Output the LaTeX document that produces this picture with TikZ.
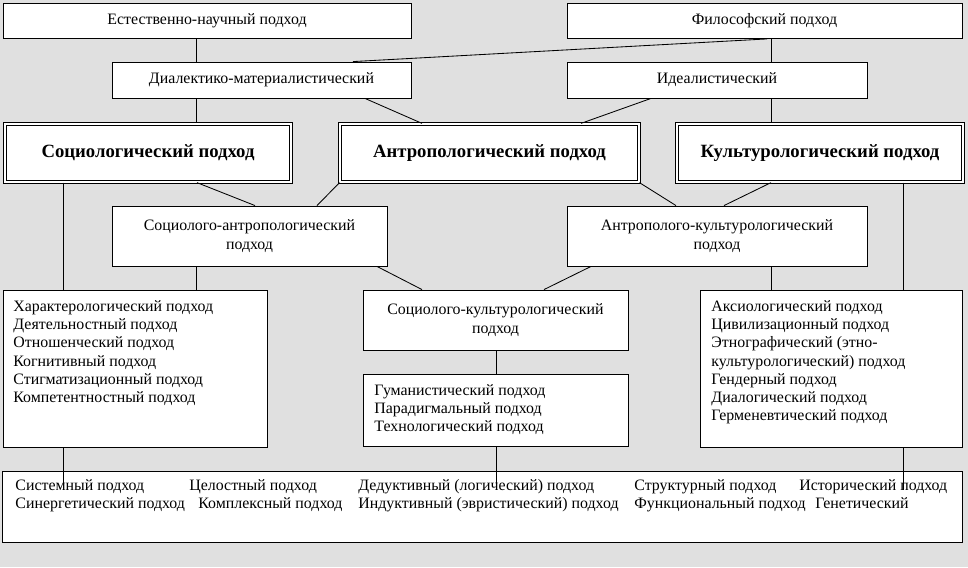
\documentclass[tikz,border=0pt]{standalone}
\usepackage{fontspec}
\setmainfont{Liberation Serif}
\usetikzlibrary{calc}

\begin{document}
\begin{tikzpicture}[
  x=0.025cm, y=-0.025cm,
  line width=0.6pt,
  box/.style={
    draw, fill=white, inner sep=2pt, align=center,
    font=\fontsize{11.3}{13}\selectfont
  },
  mainbox/.style={
    box, double, double distance=1.4pt,
    font=\fontsize{13.3}{15}\selectfont\bfseries
  },
  listtext/.style={
    anchor=north west, inner sep=0pt, align=left,
    font=\fontsize{11.3}{13}\selectfont
  },
  rowtext/.style={
    anchor=base west, inner sep=0pt,
    font=\fontsize{11.3}{13}\selectfont
  },
  link/.style={draw, line width=0.6pt}
]

% Background
\path[use as bounding box, fill=black!12] (0,0) rectangle (968,567);

% Philosophical roots
\node[box, minimum width=10.2cm, minimum height=0.875cm] (est) at (207,21) {Естественно-научный подход};
\node[box, minimum width=9.875cm, minimum height=0.875cm] (phil) at (764.5,21) {Философский подход};
\node[box, minimum width=7.475cm, minimum height=0.9cm] (dial) at (261.5,80) {Диалектико-материалистический};
\node[box, minimum width=7.5cm, minimum height=0.9cm] (ideal) at (717,80) {Идеалистический};

% Main approaches (double frame)
\node[mainbox, minimum width=7.15cm, minimum height=1.46cm] (socio) at (148,153) {Социологический подход};
\node[mainbox, minimum width=7.475cm, minimum height=1.46cm] (anthro) at (489.5,153) {Антропологический подход};
\node[mainbox, minimum width=7.15cm, minimum height=1.46cm] (cult) at (820,153) {Культурологический подход};

% Mixed approaches
\node[box, minimum width=6.875cm, minimum height=1.5cm] (socanth) at (249.5,236) {Социолого-антропологический\\подход};
\node[box, minimum width=7.5cm, minimum height=1.5cm] (anthcult) at (717,236) {Антрополого-культурологический\\подход};
\node[box, minimum width=6.625cm, minimum height=1.5cm] (soccult) at (495.5,320) {Социолого-культурологический\\подход};

% Lists of particular approaches
\node[box, minimum width=6.6cm, minimum height=3.925cm] (socl) at (135,368.5) {};
\node[box, minimum width=6.625cm, minimum height=1.8cm] (scl) at (495.5,410) {};
\node[box, minimum width=6.55cm, minimum height=3.925cm] (cull) at (831,368.5) {};

\node[listtext] (socltext) at (13,300) {Характерологический подход\\Деятельностный подход\\Отношенческий подход\\Когнитивный подход\\Стигматизационный подход\\Компетентностный подход};
\node[listtext] (scltext) at (374,384) {Гуманистический подход\\Парадигмальный подход\\Технологический подход};
\node[listtext] (culltext) at (711,300) {Аксиологический подход\\Цивилизационный подход\\Этнографический (этно-\\культурологический) подход\\Гендерный подход\\Диалогический подход\\Герменевтический подход};

% General scientific approaches
\node[box, minimum width=23.975cm, minimum height=1.775cm] (general) at (482.5,506.5) {};
\node[rowtext] (g1) at (15,490) {Системный подход};
\node[rowtext] (g2) at (189,490) {Целостный подход};
\node[rowtext] (g3) at (358,490) {Дедуктивный (логический) подход};
\node[rowtext] (g4) at (634,490) {Структурный подход};
\node[rowtext] (g5) at (799,490) {Исторический подход};
\node[rowtext] (g6) at (15,508) {Синергетический подход};
\node[rowtext] (g7) at (198,508) {Комплексный подход};
\node[rowtext] (g8) at (358,508) {Индуктивный (эвристический) подход};
\node[rowtext] (g9) at (634,508) {Функциональный подход};
\node[rowtext] (g10) at (815,508) {Генетический};

\coordinate (endsoc) at (63,488);
\coordinate (endhum) at (496,488);
\coordinate (endcult) at (903,490);

% Links
\draw[link] (est.south -| 196,0) -- (dial.north -| 196,0);
\draw[link] (phil.south -| 771,0) -- (ideal.north -| 771,0);
\draw[link] (phil.south -| 767,0) -- (dial.north -| 353,0);
\draw[link] (dial.south -| 196,0) -- (socio.north -| 196,0);
\draw[link] (dial.south -| 365,0) -- (anthro.north -| 422,0);
\draw[link] (ideal.south -| 651,0) -- (anthro.north -| 581,0);
\draw[link] (ideal.south -| 771,0) -- (cult.north -| 771,0);

\draw[link] (socio.south -| 63,0) -- (socl.north -| 63,0);
\draw[link] (socio.south -| 197,0) -- (socanth.north -| 255,0);
\draw[link] (anthro.south west) -- (socanth.north -| 317,0);
\draw[link] (anthro.south east) -- (anthcult.north -| 676,0);
\draw[link] (cult.south -| 771,0) -- (anthcult.north -| 724,0);
\draw[link] (cult.south -| 903,0) -- (cull.north -| 903,0);

\draw[link] (socanth.south -| 196,0) -- (socl.north -| 196,0);
\draw[link] (socanth.south -| 377,0) -- (soccult.north -| 422,0);
\draw[link] (anthcult.south -| 591,0) -- (soccult.north -| 544,0);
\draw[link] (anthcult.south -| 771,0) -- (cull.north -| 771,0);
\draw[link] (soccult.south -| 496,0) -- (scl.north -| 496,0);

\draw[link] (socl.south -| 63,0) -- (endsoc);
\draw[link] (scl.south -| 496,0) -- (endhum);
\draw[link] (cull.south -| 903,0) -- (endcult);

\end{tikzpicture}
\end{document}
